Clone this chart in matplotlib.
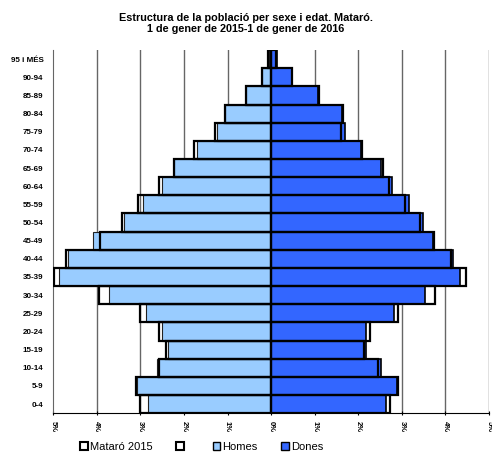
import matplotlib.pyplot as plt
import numpy as np
from matplotlib.patches import Patch

plt.rcParams['font.family'] = ['Liberation Sans', 'DejaVu Sans']

grups = ['0-4', '5-9', '10-14', '15-19', '20-24', '25-29', '30-34', '35-39',
         '40-44', '45-49', '50-54', '55-59', '60-64', '65-69', '70-74',
         '75-79', '80-84', '85-89', '90-94', '95 i MÉS']

# percentatges sobre el total (1 de gener 2016)
homes_2016 = [2.82, 3.08, 2.62, 2.37, 2.50, 2.88, 3.71, 4.86, 4.66, 4.09,
              3.37, 2.94, 2.50, 2.23, 1.71, 1.24, 1.05, 0.58, 0.20, 0.05]
dones_2016 = [2.63, 2.88, 2.52, 2.18, 2.18, 2.83, 3.53, 4.33, 4.18, 3.72,
              3.49, 3.17, 2.78, 2.53, 2.06, 1.70, 1.62, 1.07, 0.48, 0.13]
# 1 de gener 2015
homes_2015 = [3.00, 3.11, 2.58, 2.40, 2.57, 3.00, 3.95, 4.97, 4.71, 3.93,
              3.43, 3.05, 2.58, 2.23, 1.76, 1.28, 1.05, 0.58, 0.20, 0.06]
dones_2015 = [2.72, 2.90, 2.45, 2.12, 2.26, 2.90, 3.76, 4.46, 4.12, 3.74,
              3.41, 3.08, 2.71, 2.56, 2.08, 1.60, 1.65, 1.10, 0.48, 0.11]

y = np.arange(len(grups))

fig = plt.figure(figsize=(4.92, 4.55), dpi=100)
ax = fig.add_axes([0.108, 0.092, 0.886, 0.798])

for v in range(-4, 6):
    ax.axvline(v, color='#666666', lw=1, zorder=0)

ax.barh(y, -np.array(homes_2016), height=1.0, color='#99CCFF',
        edgecolor='#222222', lw=0.8, zorder=2)
ax.barh(y, dones_2016, height=1.0, color='#3366FF',
        edgecolor='black', lw=1.2, zorder=2)
ax.barh(y, -np.array(homes_2015), height=1.0, fill=False,
        edgecolor='black', lw=1.6, zorder=3)
ax.barh(y, dones_2015, height=1.0, fill=False,
        edgecolor='black', lw=1.6, zorder=3)

ax.set_xlim(-5, 5)
ax.set_ylim(-0.5, len(grups) - 0.5)
ax.set_xticks(range(-5, 6))
ax.set_xticklabels([f'{abs(v)}%' for v in range(-5, 6)], rotation=-90,
                   fontsize=5.5, fontweight='bold')
ax.set_yticks(y)
ax.set_yticklabels(grups, fontsize=5.8, fontweight='bold')
ax.tick_params(axis='y', length=0, pad=7)
ax.tick_params(axis='x', length=3, direction='inout', width=0.8, pad=4)
for s in ['top', 'right']:
    ax.spines[s].set_visible(False)
ax.spines['left'].set_color('#666666')
ax.spines['bottom'].set_linewidth(0.8)

fig.suptitle('Estructura de la població per sexe i edat. Mataró.\n'
             '1 de gener de 2015-1 de gener de 2016',
             y=0.972, fontsize=7.8, fontweight='bold', linespacing=1.2)

handles = [Patch(facecolor='white', edgecolor='black', lw=1.5),
           Patch(facecolor='white', edgecolor='black', lw=1.5),
           Patch(facecolor='#99CCFF', edgecolor='black', lw=1),
           Patch(facecolor='#3366FF', edgecolor='black', lw=1)]
fig.legend(handles, ['Mataró 2015', ' ', 'Homes', 'Dones'], loc='lower center',
           bbox_to_anchor=(0.41, -0.015), ncol=4, frameon=False, fontsize=8,
           handlelength=0.7, handleheight=0.7, handletextpad=0.2,
           columnspacing=2.1)

fig.savefig('out.png', dpi=100)
